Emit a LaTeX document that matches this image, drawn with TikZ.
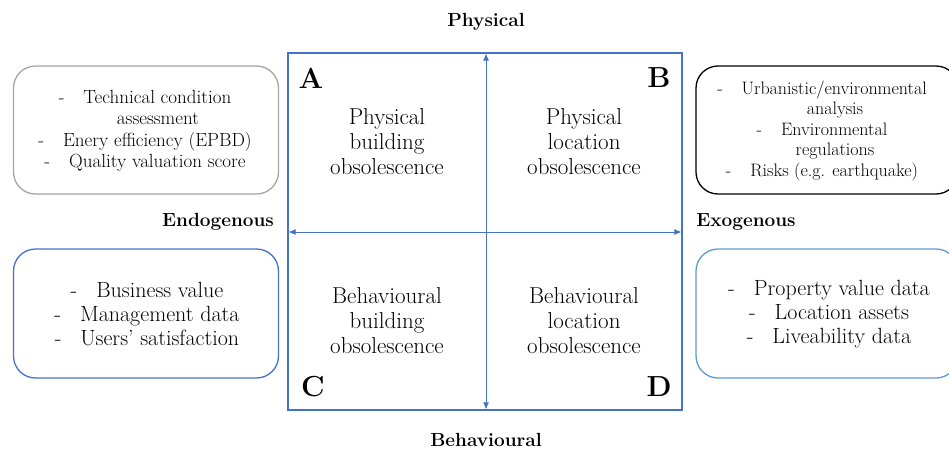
\documentclass[tikz,border=0pt]{standalone}
\usepackage{tikz}
\usetikzlibrary{arrows.meta}
\definecolor{quadblue}{RGB}{68,114,196}
\definecolor{paleblue}{RGB}{91,155,213}
\definecolor{boxgrey}{RGB}{165,165,165}

\begin{document}
\begin{tikzpicture}[x=1pt,y=-1pt,
  infobox/.style={draw, rounded corners=22pt, line width=1.3pt, align=center,
    inner sep=0pt, minimum width=265pt, minimum height=128pt},
  smalltext/.style={font=\fontsize{19}{21.5}\selectfont},
  bigtext/.style={font=\fontsize{22}{24}\selectfont},
  quadtext/.style={align=center, font=\fontsize{23}{25}\selectfont},
  letter/.style={font=\fontsize{29}{30}\selectfont\bfseries},
  axislabel/.style={font=\fontsize{19}{22}\selectfont\bfseries},
  cross/.style={quadblue, line width=0.8pt, {Latex[length=7pt,width=6pt]}-{Latex[length=7pt,width=6pt]}}]
\clip (0,0) rectangle (949,451);

% the square
\draw [quadblue, line width=1.3pt] (288,53) rectangle (682,410);
\coordinate (top) at (486,53.6);
\coordinate (bottom) at (486,409.4);
\coordinate (left) at (288.6,232);
\coordinate (right) at (681.4,232);
\draw [cross] (top) -- (bottom);
\draw [cross] (left) -- (right);

% axis labels
\node [axislabel] (phys) at (486,22) {Physical};
\node [axislabel] (behav) at (486,440) {Behavioural};
\node [axislabel] (endo) at (218,222) {Endogenous};
\node [axislabel] (exo) at (746,222) {Exogenous};

% corners
\node [letter] (A) at (311,78) {A};
\node [letter] (B) at (659,78) {B};
\node [letter] (C) at (313,387) {C};
\node [letter] (D) at (659,387) {D};

% quadrants
\node [quadtext] (pb) at (387,142) {Physical\\building\\obsolescence};
\node [quadtext] (pl) at (584,142) {Physical\\location\\obsolescence};
\node [quadtext] (bb) at (387,321) {Behavioural\\building\\obsolescence};
\node [quadtext] (bl) at (584,321) {Behavioural\\location\\obsolescence};

% data boxes
\node [infobox, boxgrey] (tl) at (146,130) {};
\node [smalltext, align=center] (tltext) at (145,131)
  {-\hspace{19pt}Technical condition\\ \hspace*{26pt}assessment\\
   -\hspace{19pt}Enery efficiency (EPBD)\\ -\hspace{19pt}Quality valuation score};
\node [infobox, black, minimum width=262pt] (tr) at (827,130) {};
\node [smalltext, font=\fontsize{18}{20.5}\selectfont, align=center] (trtext) at (822,131)
  {-\hspace{19pt}Urbanistic/environmental\\ \hspace*{26pt}analysis\\
   -\hspace{19pt}Environmental\\ \hspace*{26pt}regulations\\
   -\hspace{19pt}Risks (e.g. earthquake)};
\node [infobox, quadblue, minimum height=129pt] (bl) at (146,313.5) {};
\node [bigtext, align=center] (bltext) at (147,314)
  {-\hspace{19pt}Business value\\ -\hspace{19pt}Management data\\
   -\hspace{19pt}Users' satisfaction};
\node [infobox, paleblue, minimum width=262pt, minimum height=129pt] (br) at (827,313.5) {};
\node [bigtext, align=center] (brtext) at (829,314)
  {-\hspace{19pt}Property value data\\ -\hspace{19pt}Location assets\\
   -\hspace{19pt}Liveability data};
\end{tikzpicture}
\end{document}
